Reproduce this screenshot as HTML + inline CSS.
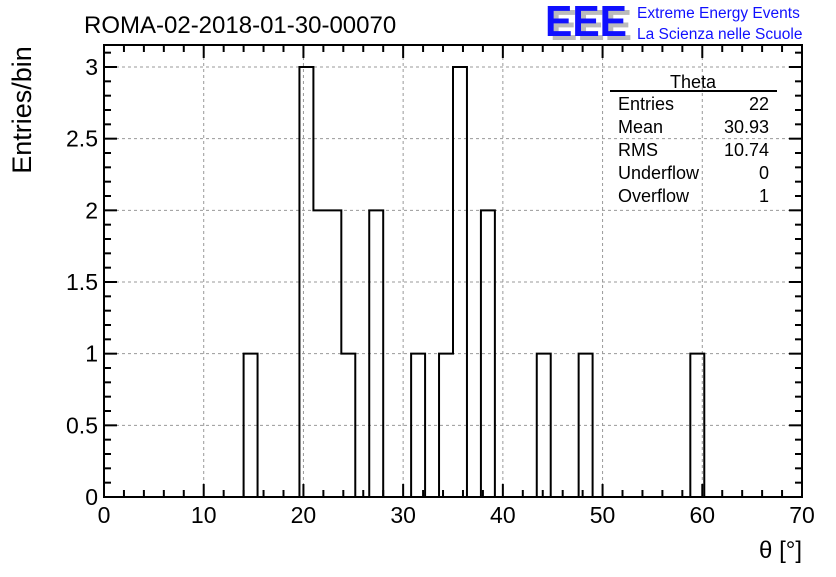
<!DOCTYPE html>
<html><head><meta charset="utf-8"><style>
body{margin:0;background:#fff;}
svg text{font-family:"Liberation Sans",sans-serif;}
</style></head><body>
<svg id="c" width="836" height="572" xmlns="http://www.w3.org/2000/svg">
<rect width="836" height="572" fill="#fff"/>
<text x="84" y="33" font-size="24">ROMA-02-2018-01-30-00070</text>
<g>
<text x="550" y="40" font-size="44" fill="#bbb" font-weight="bold" textLength="82" lengthAdjust="spacingAndGlyphs">EEE</text>
<text x="545" y="36" font-size="44" fill="#1010ff" font-weight="bold" textLength="82" lengthAdjust="spacingAndGlyphs">EEE</text>
<text x="637" y="18" font-size="15.5" fill="#1010ff">Extreme Energy Events</text>
<text x="637" y="39" font-size="15.5" fill="#1010ff">La Scienza nelle Scuole</text>
</g>
<g id="grid"></g>
<g id="bars"></g>
<rect x="104" y="45" width="698" height="452" fill="none" stroke="#000" stroke-width="2"/>
<g id="ticks"></g>
<text x="31" y="110" font-size="27" transform="rotate(-90 31 110)" text-anchor="middle" dy="0">Entries/bin</text>
<text x="802" y="558" font-size="24" text-anchor="end">θ [°]</text>
<g>
<text x="693" y="88" font-size="18" text-anchor="middle">Theta</text>
<line x1="610" y1="91" x2="777" y2="91" stroke="#000" stroke-width="2"/>
<text x="618" y="110" font-size="18">Entries</text><text x="769" y="110" font-size="18" text-anchor="end">22</text>
<text x="618" y="133" font-size="18">Mean</text><text x="769" y="133" font-size="18" text-anchor="end">30.93</text>
<text x="618" y="156" font-size="18">RMS</text><text x="769" y="156" font-size="18" text-anchor="end">10.74</text>
<text x="618" y="179" font-size="18">Underflow</text><text x="769" y="179" font-size="18" text-anchor="end">0</text>
<text x="618" y="202" font-size="18">Overflow</text><text x="769" y="202" font-size="18" text-anchor="end">1</text>
</g>
</svg>
<script>
const binCounts=[0,0,0,0,0,0,0,0,0,0,1,0,0,0,3,2,2,1,0,2,0,0,1,0,1,3,0,2,0,0,0,1,0,0,1,0,0,0,0,0,0,0,1,0,0,0,0,0,0,0];
const binWidth=[1.4];
const xTickLabels=["0","10","20","30","40","50","60","70"];
const yTickLabels=["0","0.5","1","1.5","2","2.5","3"];
const NS="http://www.w3.org/2000/svg";
const X0=104,X1=802,Y0=497,Y1=67;
const xs=v=>X0+(X1-X0)*v/70;
const ys=v=>Y0-(Y0-Y1)*v/3;
function mk(t,a,p){const e=document.createElementNS(NS,t);for(const k in a)e.setAttribute(k,a[k]);p.appendChild(e);return e;}
const grid=document.getElementById('grid'),ticks=document.getElementById('ticks'),bars=document.getElementById('bars');
xTickLabels.forEach(l=>{const v=+l,x=xs(v);
 if(v>0&&v<70){const g=mk('line',{x1:x,y1:45,x2:x,y2:497,stroke:'#999','stroke-dasharray':'3,3'},grid);
 
 }
 const t=mk('text',{x:x,y:523,'font-size':23,'text-anchor':'middle'},ticks);t.textContent=l;
 
 });
yTickLabels.forEach(l=>{const v=+l,y=ys(v);
 if(v>0){const g=mk('line',{x1:104,y1:y,x2:802,y2:y,stroke:'#999','stroke-dasharray':'3,3'},grid);
 
 }
 const t=mk('text',{x:98,y:y+8,'font-size':23,'text-anchor':'end'},ticks);t.textContent=l;
 
 });
for(let v=0;v<=70;v+=2){const x=xs(v),L=v%10===0?13:7;
 mk('line',{x1:x,y1:497,x2:x,y2:497-L,stroke:'#000','stroke-width':2},ticks);
 mk('line',{x1:x,y1:45,x2:x,y2:45+L,stroke:'#000','stroke-width':2},ticks);}
for(let i=0;i<=31;i++){const v=i*0.1,y=ys(v),L=i%5===0?13:7;
 mk('line',{x1:104,y1:y,x2:104+L,y2:y,stroke:'#000','stroke-width':2},ticks);
 mk('line',{x1:802,y1:y,x2:802-L,y2:y,stroke:'#000','stroke-width':2},ticks);}
let d='M'+xs(0)+','+ys(0);
binCounts.forEach((c,i)=>{d+=' L'+xs(i*binWidth[0])+','+ys(c)+' L'+xs((i+1)*binWidth[0])+','+ys(c);});
d+=' L'+xs(70)+','+ys(0);
const p=mk('path',{d:d,fill:'none',stroke:'#000','stroke-width':2},bars);


</script>
</body></html>
